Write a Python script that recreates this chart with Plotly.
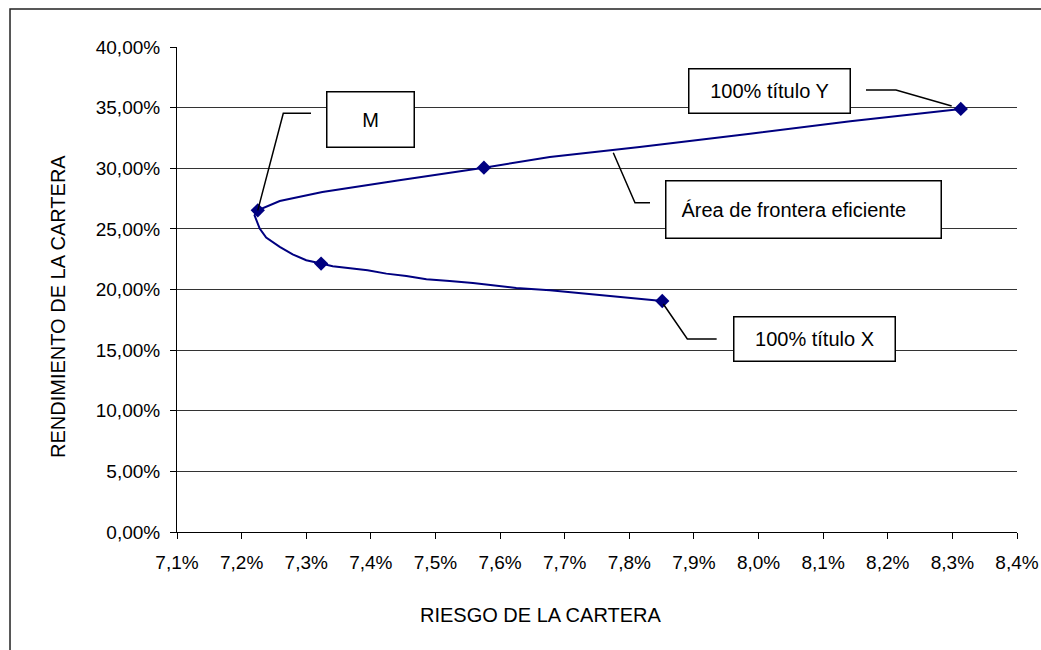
import plotly.graph_objects as go

# Efficient-frontier curve: portfolio risk (std. dev.) vs. expected return
riesgo = [0.07851, 0.07764, 0.07677, 0.07625, 0.07589, 0.07558, 0.07522, 0.07486,
          0.07455, 0.07424, 0.07395, 0.07367, 0.07341, 0.07323, 0.07300, 0.07279,
          0.07259, 0.07238, 0.07228, 0.07220, 0.07225, 0.07259, 0.07325, 0.07444,
          0.07575, 0.07677, 0.07816, 0.07987, 0.08142, 0.08313]
rendimiento = [0.1905, 0.1952, 0.1993, 0.2012, 0.2035, 0.2054, 0.2070, 0.2084,
               0.2111, 0.2131, 0.2158, 0.2172, 0.2191, 0.2214, 0.2241, 0.2290,
               0.2351, 0.2428, 0.2502, 0.2612, 0.2653, 0.2730, 0.2804, 0.2901,
               0.3005, 0.3093, 0.3175, 0.3284, 0.3387, 0.3489]

# Highlighted portfolios (100% X, intermediate mixes, M, 100% Y)
riesgo_marcas = [0.07851, 0.07323, 0.07225, 0.07575, 0.08313]
rendimiento_marcas = [0.1905, 0.2214, 0.2653, 0.3005, 0.3489]

x_ticks = [0.071 + 0.001 * i for i in range(14)]
y_ticks = [0.05 * i for i in range(9)]

FONT = "Liberation Sans, Arial, sans-serif"
TICK_FS = 19
TEXT_FS = 20

fig = go.Figure()
fig.add_trace(go.Scatter(x=riesgo, y=rendimiento, mode="lines",
                         line=dict(color="#000080", width=2), hoverinfo="skip"))
fig.add_trace(go.Scatter(x=riesgo_marcas, y=rendimiento_marcas, mode="markers",
                         marker=dict(symbol="diamond", size=11, color="#000080")))

# Labelled callouts: (text, box centre x, box centre y, width, height, align, pad, leader path)
callouts = [
    ("M", 0.073995, 0.3405, 86, 54, "center", 0,
     [(0.073074, 0.3453), (0.072645, 0.3453), (riesgo_marcas[2], rendimiento_marcas[2])]),
    ("100% título Y", 0.080162, 0.3638, 160, 43, "center", 0,
     [(0.081663, 0.3645), (0.082127, 0.3645), (0.082989, 0.3513)]),
    ("Área de frontera eficiente", 0.080698, 0.2656, 244, 26, "left", 15,
     [(0.07832, 0.2716), (0.078088, 0.2716), (0.077752, 0.3128)]),
    ("100% título X", 0.080859, 0.1593, 160, 43, "center", 0,
     [(0.079352, 0.1592), (0.078898, 0.1592), (0.078526, 0.1880)]),
]

shapes = []
annotations = []
for text, cx, cy, w, h, align, pad, path in callouts:
    d = "M " + " L ".join(f"{px},{py}" for px, py in path)
    shapes.append(dict(type="path", path=d, xref="x", yref="y",
                       line=dict(color="black", width=1.5)))
    annotations.append(dict(x=cx, y=cy, xref="x", yref="y", text=text,
                            xanchor="center", yanchor="middle",
                            showarrow=False, width=w, height=h, align=align,
                            bordercolor="black", borderwidth=1.5,
                            borderpad=pad, bgcolor="white",
                            font=dict(family=FONT, size=TEXT_FS, color="black")))

# Outer chart frame
shapes.append(dict(type="rect", xref="paper", yref="paper",
                   x0=-0.1988, x1=1.2, y0=-0.5, y1=1.0784,
                   line=dict(color="#222", width=1.5), layer="below"))

annotations.append(dict(text="RIESGO DE LA CARTERA", xref="paper", yref="paper",
                        x=0.4327, y=-0.171, xanchor="center", yanchor="middle",
                        showarrow=False,
                        font=dict(family=FONT, size=TEXT_FS, color="black")))
annotations.append(dict(text="RENDIMIENTO DE LA CARTERA", xref="paper", yref="paper",
                        x=-0.1417, y=0.466, xanchor="center", yanchor="middle",
                        showarrow=False, textangle=-90,
                        font=dict(family=FONT, size=TEXT_FS, color="black")))

fig.update_layout(
    width=1041, height=650,
    margin=dict(l=177, r=24, t=47, b=118, autoexpand=False),
    paper_bgcolor="white", plot_bgcolor="white",
    separators=",.",
    showlegend=False,
    font=dict(family=FONT, size=TICK_FS, color="black"),
    shapes=shapes, annotations=annotations,
    xaxis=dict(range=[0.071, 0.084], tickvals=x_ticks, tickformat=".1%",
               automargin=False,
               showgrid=False, zeroline=False, showline=True,
               linecolor="black", linewidth=1, ticks="outside", ticklen=6,
               tickcolor="black", ticklabelstandoff=7,
               tickfont=dict(family=FONT, size=TICK_FS, color="black")),
    yaxis=dict(range=[0, 0.40], tickvals=y_ticks, tickformat=".2%",
               automargin=False,
               showgrid=True, gridcolor="#333", gridwidth=1, zeroline=False,
               showline=True, linecolor="black", linewidth=1, ticks="outside",
               ticklen=6, tickcolor="black", ticklabelstandoff=6,
               tickfont=dict(family=FONT, size=TICK_FS, color="black")),
)

fig.write_html("out.html")
